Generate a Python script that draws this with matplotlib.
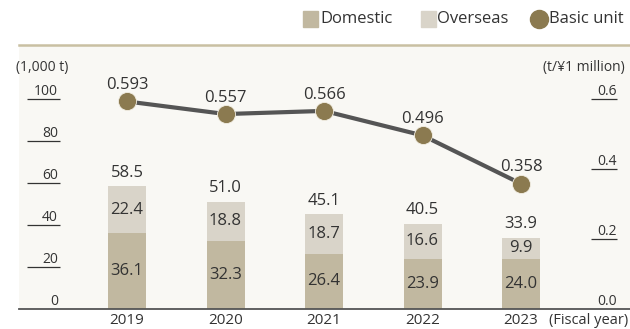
import numpy as np
import matplotlib as mpl
import matplotlib.pyplot as plt
from matplotlib.patches import Rectangle
from matplotlib.lines import Line2D

# ── data ──────────────────────────────────────────────────────────────────────
years      = ["2019", "2020", "2021", "2022", "2023"]
domestic   = [36.1, 32.3, 26.4, 23.9, 24.0]
overseas   = [22.4, 18.8, 18.7, 16.6, 9.9]
totals     = [58.5, 51.0, 45.1, 40.5, 33.9]
basic_unit = [0.593, 0.557, 0.566, 0.496, 0.358]

left_ticks  = [0, 20, 40, 60, 80, 100]
right_ticks = [0.0, 0.2, 0.4, 0.6]

# ── style ─────────────────────────────────────────────────────────────────────
mpl.rcParams["font.family"] = ["Open Sans", "DejaVu Sans"]
TXT       = "#333333"
C_DOM     = "#c1b8a0"
C_OVS     = "#d9d4c9"
C_UNIT    = "#8b7a50"
C_LINE    = "#555555"
C_BG      = "#f9f8f4"
C_TOPLINE = "#c9c0a2"

W, H = 630, 329
fig = plt.figure(figsize=(W / 100, H / 100), dpi=100)
fig.patch.set_facecolor("white")

# axes rectangle in pixel coords: x 19..630, y 45..309 (top-down)
x0, x1, y_top, y_base = 19, 630, 45, 309
ax = fig.add_axes([x0 / W, (H - y_base) / H, (x1 - x0) / W, (y_base - y_top) / H])
ax.set_facecolor(C_BG)

PX_PER_UNIT = 2.1
ymax = (y_base - y_top) / PX_PER_UNIT
ax.set_ylim(0, ymax)
slot, first = 98.5, 127
ax.set_xlim((x0 - first) / slot, (x1 - first) / slot)

for s in ax.spines.values():
    s.set_visible(False)
ax.set_xticks([])
ax.set_yticks([])

x = np.arange(len(years))
bw = 38 / slot
ax.bar(x, domestic, width=bw, color=C_DOM, zorder=2)
ax.bar(x, overseas, width=bw, bottom=domestic, color=C_OVS, zorder=2)

for xi, d, o, t in zip(x, domestic, overseas, totals):
    ax.text(xi, d / 2, f"{d:.1f}", ha="center", va="center", fontsize=12, color=TXT, zorder=4)
    ax.text(xi, d + o / 2, f"{o:.1f}", ha="center", va="center", fontsize=12, color=TXT, zorder=4)
    ax.annotate(f"{t:.1f}", (xi, t), xytext=(0, 4), textcoords="offset points",
                ha="center", va="bottom", fontsize=12, color=TXT, zorder=4)

# baseline + top rule
ax.axhline(0, color=C_LINE, lw=1.3, zorder=3, clip_on=False)
ax.axhline(ymax, color=C_TOPLINE, lw=1.8, zorder=3, clip_on=False)

# ── left value labels (underlined) ────────────────────────────────────────────
for v in left_ticks:
    ax.text((58 - first) / slot, v, str(v), ha="right", va="bottom",
            fontsize=10, color=TXT)
    if v > 0:
        ax.plot([(27 - first) / slot, (60 - first) / slot], [v, v],
                color=TXT, lw=0.9, solid_capstyle="butt")
ax.text((16 - first) / slot, 100 + 11 / PX_PER_UNIT + 6, "(1,000 t)",
        ha="left", va="bottom", fontsize=10, color=TXT, clip_on=False)

# ── basic unit on the right axis ──────────────────────────────────────────────
ax2 = ax.twinx()
ax2.set_ylim(0, ymax * 0.006)
ax2.axis("off")
ax2.plot(x, basic_unit, color=C_LINE, lw=3, zorder=5)
ax2.plot(x, basic_unit, "o", ms=13, color=C_UNIT, mec="#f3efe4", mew=0.6, zorder=6)
for xi, u in zip(x, basic_unit):
    ax2.annotate(f"{u:.3f}", (xi, u), xytext=(0, 6), textcoords="offset points",
                 ha="center", va="bottom", fontsize=12, color=TXT, zorder=7)

for v in right_ticks:
    ax2.text((617 - first) / slot, v, f"{v:.1f}", ha="right", va="bottom",
             fontsize=10, color=TXT)
    if v > 0:
        ax2.plot([(591 - first) / slot, (617 - first) / slot], [v, v],
                 color=TXT, lw=0.9, solid_capstyle="butt", clip_on=False)
ax2.text((625 - first) / slot, 0.6 + 0.07, "(t/\u00a51 million)", ha="right",
         va="bottom", fontsize=10, color=TXT, clip_on=False)

# ── x labels below the baseline ───────────────────────────────────────────────
for xi, yr in zip(x, years):
    fig.text((first + slot * xi) / W, (H - 321) / H, yr, ha="center", va="center",
             fontsize=11, color=TXT)
fig.text(628 / W, (H - 321) / H, "(Fiscal year)", ha="right", va="center",
         fontsize=10.5, color=TXT)

# ── legend row ────────────────────────────────────────────────────────────────
ly = (H - 19) / H
fig.patches.append(Rectangle((303 / W, (H - 26.5) / H), 15 / W, 15 / H,
                             transform=fig.transFigure, color=C_DOM))
fig.text(320 / W, ly, "Domestic", ha="left", va="center", fontsize=12, color=TXT)
fig.patches.append(Rectangle((421 / W, (H - 26.5) / H), 15 / W, 15 / H,
                             transform=fig.transFigure, color=C_OVS))
fig.text(437 / W, ly, "Overseas", ha="left", va="center", fontsize=12, color=TXT)
fig.lines.append(Line2D([539 / W], [ly], marker="o", ms=13, color=C_UNIT,
                        transform=fig.transFigure))
fig.text(549 / W, ly, "Basic unit", ha="left", va="center", fontsize=12, color=TXT)

fig.savefig("out.png", dpi=100)
